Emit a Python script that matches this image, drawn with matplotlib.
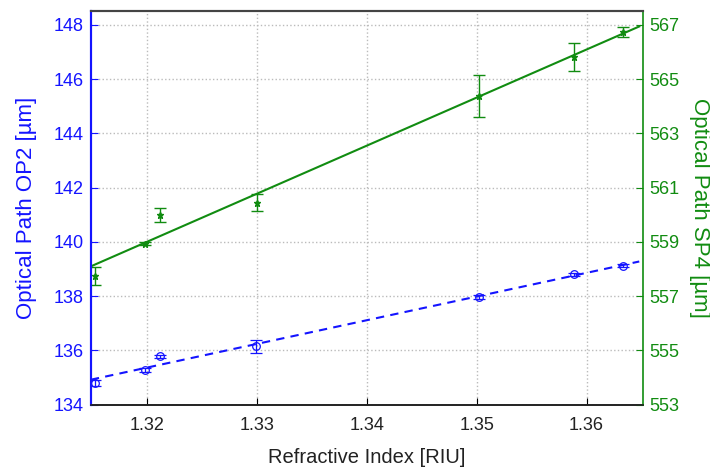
import numpy as np
import matplotlib
matplotlib.use("Agg")
import matplotlib.pyplot as plt

plt.rcParams['font.family'] = ['Liberation Sans', 'DejaVu Sans']

# OP2 (left axis, blue)
ri_op2 = [1.3153, 1.3198, 1.3212, 1.3299, 1.3502, 1.3589, 1.3633]
op2 = [134.80, 135.29, 135.78, 136.15, 137.97, 138.80, 139.13]
op2_err = [0.10, 0.08, 0.06, 0.23, 0.08, 0.07, 0.06]

# SP4 (right axis, green)
ri_sp4 = [1.3153, 1.3198, 1.3212, 1.3300, 1.3502, 1.3589, 1.3633]
sp4 = [557.75, 558.93, 560.00, 560.44, 564.38, 565.82, 566.74]
sp4_err = [0.34, 0.05, 0.26, 0.31, 0.77, 0.53, 0.17]

xticks = [1.32, 1.33, 1.34, 1.35, 1.36]
op2_ticks = [134, 136, 138, 140, 142, 144, 146, 148]
sp4_ticks = [553, 555, 557, 559, 561, 563, 565, 567]

blue = '#1414ff'
green = '#118c11'

fig = plt.figure(figsize=(7.1, 4.7), dpi=100)
ax = fig.add_axes([0.128, 0.139, 0.777, 0.838])
ax2 = ax.twinx()

xlim = (1.3149, 1.3651)
xfit = np.linspace(1.3149, 1.3648, 50)

# linear fits
p1 = np.polyfit(ri_op2, op2, 1)
p2 = np.polyfit(ri_sp4, sp4, 1)

ax.plot(xfit, np.polyval(p1, xfit), '--', color=blue, lw=1.5, dashes=(4, 3))
ax.errorbar(ri_op2, op2, yerr=op2_err, fmt='o', mfc='none', mec=blue, ms=5.5,
            mew=0.9, ecolor=blue, elinewidth=0.9, capsize=4, capthick=0.9)

ax2.plot(xfit, np.polyval(p2, xfit), '-', color=green, lw=1.5)
ax2.errorbar(ri_sp4, sp4, yerr=sp4_err, fmt='*', color=green, mec=green, ms=5,
             ecolor=green, elinewidth=1.0, capsize=4, capthick=1.0)

ax.set_xlim(*xlim)
ax.set_ylim(134, 148.52)
ax2.set_ylim(553, 567.52)
ax.set_xticks(xticks)
ax.set_xticklabels([f'{t:.2f}' for t in xticks])
ax.set_yticks(op2_ticks)
ax2.set_yticks(sp4_ticks)

ax.grid(True, color='#bbbbbb', linestyle=':', linewidth=1.0)

ax.tick_params(axis='both', direction='in', labelsize=13, length=5)
ax.tick_params(axis='y', colors=blue, pad=5)
ax.tick_params(axis='x', colors='black', labelcolor='#222222', pad=9)
ax2.tick_params(axis='y', direction='in', labelsize=13, length=5, colors=green, pad=5)

ax.spines['left'].set_color(blue)
ax.spines['left'].set_linewidth(1.5)
ax2.spines['left'].set_color(blue)
ax2.spines['left'].set_linewidth(1.5)
ax2.spines['right'].set_color(green)
ax2.spines['right'].set_linewidth(1.2)
ax.spines['right'].set_visible(False)
for a in (ax, ax2):
    a.spines['top'].set_color('#444444')
    a.spines['top'].set_linewidth(1.5)
    a.spines['bottom'].set_color('#222222')
    a.spines['bottom'].set_linewidth(1.2)

ax.set_xlabel('Refractive Index [RIU]', fontsize=14.5, color='#222222', labelpad=10)
ax.set_ylabel('Optical Path OP2 [µm]', fontsize=16, color=blue, labelpad=12)
ax2.set_ylabel('Optical Path SP4 [µm]', fontsize=16, color=green,
               rotation=270, labelpad=22)

fig.savefig('out.png', dpi=100)
